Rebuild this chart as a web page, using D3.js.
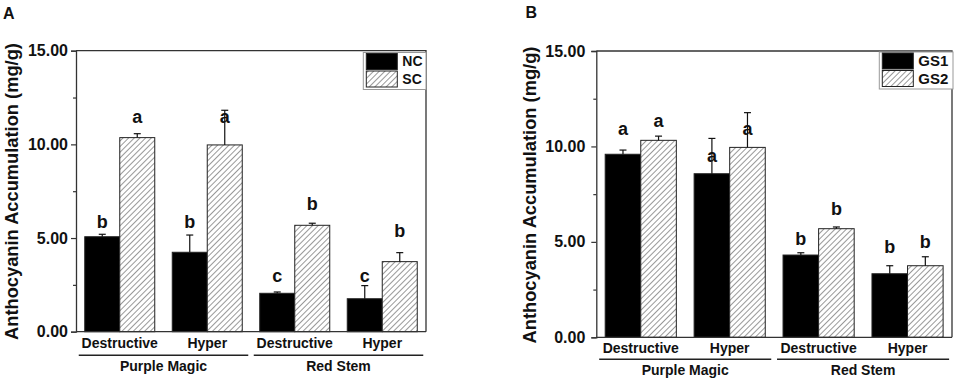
<!DOCTYPE html>
<html>
<head>
<meta charset="utf-8">
<script src="https://cdn.jsdelivr.net/npm/d3@7"></script>
<style>
  html, body { margin: 0; padding: 0; background: #fff; }
  svg { display: block; font-family: "Liberation Sans", Arial, sans-serif; font-weight: bold; }
</style>
</head>
<body>
<div id="chart"></div>
<script>
// Anthocyanin accumulation, two panels (A: NC vs SC, B: GS1 vs GS2)

const categories = ["Destructive", "Hyper", "Destructive", "Hyper"];
const groups = ["Purple Magic", "Red Stem"];
const groupSpans = [[0, 1], [2, 3]];
const yTicks = [0, 5, 10, 15];
const yMinorTicks = [2.5, 7.5, 12.5];
const yTitle = "Anthocyanin Accumulation (mg/g)";

// panel A
const ncValues = [5.07, 4.24, 2.05, 1.76];
const ncErrors = [0.13, 0.92, 0.07, 0.70];
const ncLetters = ["b", "b", "c", "c"];
const ncLetterAt = [5.52, 5.52, 2.67, 2.67];
const scValues = [10.36, 9.97, 5.68, 3.74];
const scErrors = [0.21, 1.85, 0.11, 0.48];
const scLetters = ["a", "a", "b", "b"];
const scLetterAt = [11.13, 11.13, 6.50, 5.07];

// panel B
const gs1Values = [9.59, 8.57, 4.31, 3.33];
const gs1Errors = [0.22, 1.85, 0.12, 0.42];
const gs1Letters = ["a", "a", "b", "b"];
const gs1LetterAt = [10.60, 9.20, 4.83, 4.40];
const gs2Values = [10.32, 9.95, 5.69, 3.75];
const gs2Errors = [0.22, 1.82, 0.09, 0.47];
const gs2Letters = ["a", "a", "b", "b"];
const gs2LetterAt = [11.03, 10.60, 6.41, 4.66];

const W = 957, H = 381;

const svg = d3.select("#chart").append("svg")
    .attr("width", W)
    .attr("height", H);

// hatch pattern for the second series
const defs = svg.append("defs");
const pat = defs.append("pattern")
    .attr("id", "hatch")
    .attr("patternUnits", "userSpaceOnUse")
    .attr("width", 4)
    .attr("height", 4)
    .attr("patternTransform", "rotate(45)");
pat.append("rect").attr("width", 4).attr("height", 4).attr("fill", "#fff");
pat.append("line")
    .attr("x1", 0).attr("y1", 0)
    .attr("x2", 0).attr("y2", 4)
    .attr("stroke", "#444")
    .attr("stroke-width", 1.1);

function drawPanel(p) {
    const g = svg.append("g");

    const x = d3.scaleBand()
        .domain(d3.range(categories.length))
        .range([p.left, p.right])
        .paddingInner(0.2)
        .paddingOuter(0.1);

    const xs = d3.scaleBand()
        .domain([0, 1])
        .range([0, x.bandwidth()]);

    const y = d3.scaleLinear()
        .domain([0, 15])
        .range([p.bottom, p.top]);

    const series = [
        { values: p.s1, errors: p.e1, letters: p.l1, letterAt: p.la1, fill: "#000" },
        { values: p.s2, errors: p.e2, letters: p.l2, letterAt: p.la2, fill: "url(#hatch)" }
    ];

    // frame (top + right)
    g.append("path")
        .attr("d", `M${p.left},${p.top}H${p.right}V${p.bottom}`)
        .attr("fill", "none")
        .attr("stroke", "#333")
        .attr("stroke-width", 1.3);

    // bars
    series.forEach((s, si) => {
        const bx = i => x(i) + xs(si);
        g.append("g").selectAll("rect")
            .data(s.values)
            .join("rect")
            .attr("x", (d, i) => bx(i))
            .attr("y", d => y(d))
            .attr("width", xs.bandwidth())
            .attr("height", d => y(0) - y(d))
            .attr("fill", s.fill)
            .attr("stroke", "#222")
            .attr("stroke-width", 1);

        // error bars (upper only)
        const eg = g.append("g").attr("stroke", "#111").attr("stroke-width", 1.2);
        s.values.forEach((v, i) => {
            const cx = bx(i) + xs.bandwidth() / 2;
            const top = y(v + s.errors[i]);
            eg.append("line")
                .attr("x1", cx).attr("x2", cx)
                .attr("y1", y(v)).attr("y2", top);
            eg.append("line")
                .attr("x1", cx - 3.5).attr("x2", cx + 3.5)
                .attr("y1", top).attr("y2", top);
        });

        // significance letters
        g.append("g").selectAll("text")
            .data(s.letters)
            .join("text")
            .attr("x", (d, i) => bx(i) + xs.bandwidth() / 2)
            .attr("y", (d, i) => y(s.letterAt[i]))
            .attr("text-anchor", "middle")
            .attr("font-size", 18)
            .attr("fill", "#111")
            .text(d => d);
    });

    // y axis
    const yAxis = g.append("g")
        .attr("transform", `translate(${p.left},0)`)
        .call(d3.axisLeft(y).tickValues(yTicks).tickSize(5).tickPadding(p.tickPad)
            .tickFormat(d3.format(".2f")));
    yAxis.selectAll("text")
        .attr("font-size", 16)
        .attr("font-family", "Liberation Sans, Arial, sans-serif")
        .attr("font-weight", "bold")
        .attr("fill", "#111");
    yAxis.selectAll("line").attr("stroke", "#333").attr("stroke-width", 1.2);
    yAxis.select(".domain").attr("stroke", "#333").attr("stroke-width", 1.3);

    const yMinor = g.append("g")
        .attr("transform", `translate(${p.left},0)`)
        .call(d3.axisLeft(y).tickValues(yMinorTicks).tickSize(3).tickFormat(""));
    yMinor.select(".domain").remove();
    yMinor.selectAll("line").attr("stroke", "#333").attr("stroke-width", 1.2);

    // x baseline
    g.append("line")
        .attr("x1", p.left).attr("x2", p.right)
        .attr("y1", y(0)).attr("y2", y(0))
        .attr("stroke", "#333")
        .attr("stroke-width", 1.3);

    // category labels
    g.append("g").selectAll("text")
        .data(categories)
        .join("text")
        .attr("x", (d, i) => x(i) + x.bandwidth() / 2)
        .attr("y", p.catY)
        .attr("dy", "0.35em")
        .attr("text-anchor", "middle")
        .attr("font-size", 14)
        .attr("fill", "#111")
        .text(d => d);

    // group underlines + labels
    const gap = 6;
    groupSpans.forEach((span, gi) => {
        const x1 = x(span[0]) - gap;
        const x2 = x(span[1]) + x.bandwidth() + gap;
        g.append("line")
            .attr("x1", x1).attr("x2", x2)
            .attr("y1", p.lineY).attr("y2", p.lineY)
            .attr("stroke", "#222")
            .attr("stroke-width", 1.4);
        g.append("text")
            .attr("x", (x1 + x2) / 2)
            .attr("y", p.groupY)
            .attr("dy", "0.35em")
            .attr("text-anchor", "middle")
            .attr("font-size", 14)
            .attr("fill", "#111")
            .text(groups[gi]);
    });

    // y title
    g.append("text")
        .attr("transform", `translate(${p.titleX},${p.titleY}) rotate(-90)`)
        .attr("dy", "0.35em")
        .attr("text-anchor", "middle")
        .attr("font-size", 18.3)
        .attr("fill", "#111")
        .text(yTitle);

    // panel letter
    g.append("text")
        .attr("x", p.tagX)
        .attr("y", p.tagY)
        .attr("dy", "0.35em")
        .attr("font-size", 16)
        .attr("fill", "#111")
        .text(p.tag);

    // legend
    const lg = g.append("g").attr("transform", `translate(${p.legX},${p.legY})`);
    lg.append("rect")
        .attr("width", p.legW)
        .attr("height", 37)
        .attr("fill", "#fff")
        .attr("stroke", "#999")
        .attr("stroke-width", 1);
    [p.n1, p.n2].forEach((name, i) => {
        lg.append("rect")
            .attr("x", 3)
            .attr("y", 1 + i * 17.5)
            .attr("width", 31)
            .attr("height", 16)
            .attr("fill", series[i].fill)
            .attr("stroke", "#222")
            .attr("stroke-width", 1);
        lg.append("text")
            .attr("x", 39)
            .attr("y", 9 + i * 17.5)
            .attr("dy", "0.35em")
            .attr("font-size", p.legFont)
            .attr("fill", "#111")
            .text(name);
    });
}

drawPanel({
    tag: "A", tagX: 3, tagY: 13,
    left: 76, right: 426, top: 50.7, bottom: 331.7, tickPad: 3,
    s1: ncValues, e1: ncErrors, l1: ncLetters, la1: ncLetterAt,
    s2: scValues, e2: scErrors, l2: scLetters, la2: scLetterAt,
    n1: "NC", n2: "SC",
    catY: 343.5, lineY: 355.3, groupY: 366,
    titleX: 12, titleY: 191.5,
    legX: 363.3, legY: 52.5, legW: 62.7, legFont: 14
});

drawPanel({
    tag: "B", tagX: 525.5, tagY: 12,
    left: 596.3, right: 952, top: 51, bottom: 337.3, tickPad: 6,
    s1: gs1Values, e1: gs1Errors, l1: gs1Letters, la1: gs1LetterAt,
    s2: gs2Values, e2: gs2Errors, l2: gs2Letters, la2: gs2LetterAt,
    n1: "GS1", n2: "GS2",
    catY: 348.5, lineY: 359.3, groupY: 370.5,
    titleX: 530, titleY: 195,
    legX: 879.3, legY: 52, legW: 73.7, legFont: 15
});
</script>
</body>
</html>
